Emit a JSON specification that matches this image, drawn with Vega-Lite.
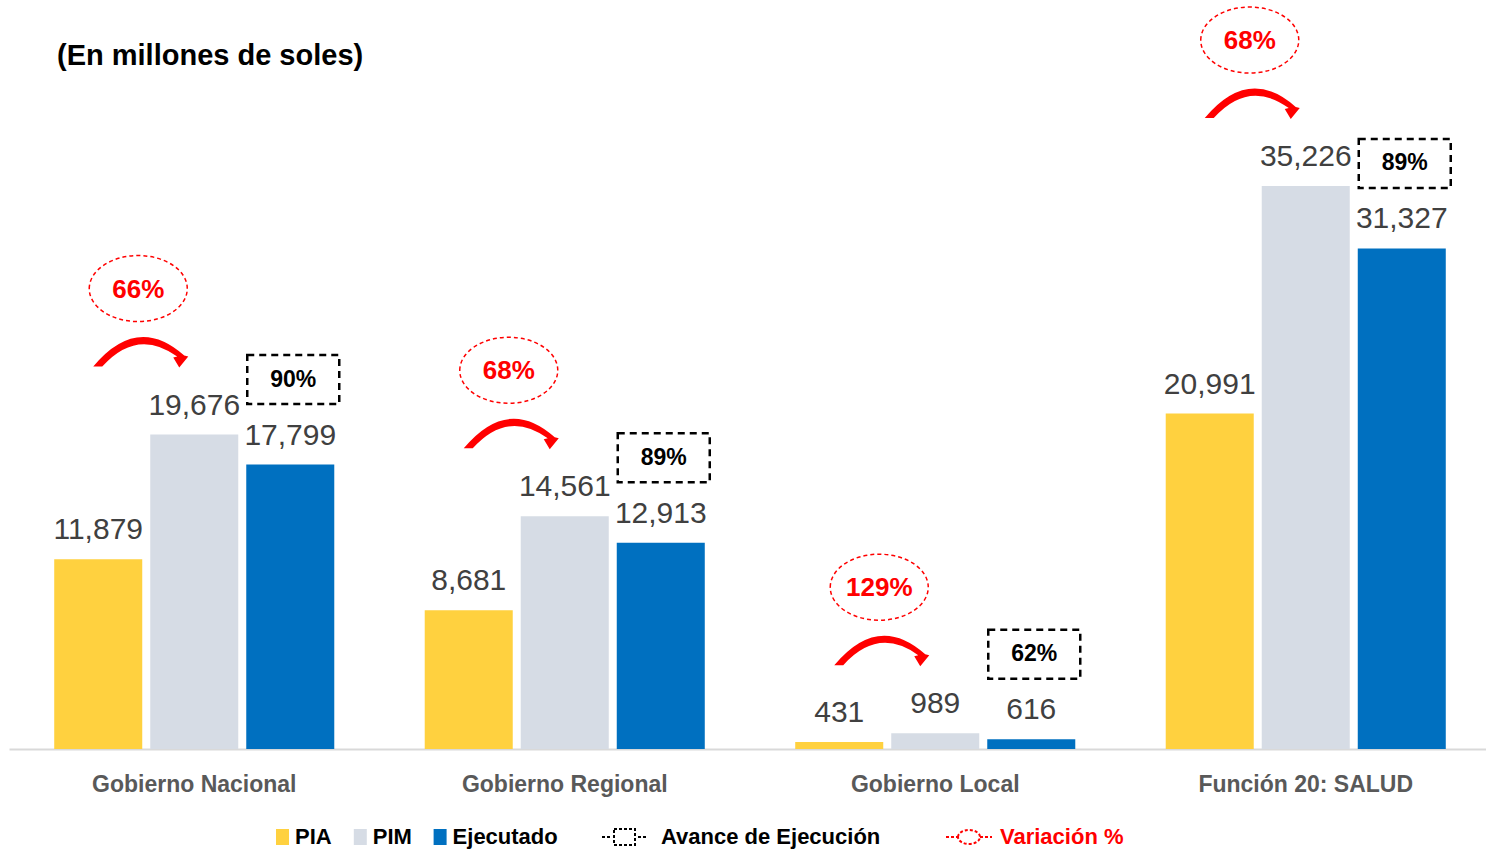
{
  "$schema": "https://vega.github.io/schema/vega-lite/v6.json",
  "autosize": "none",
  "padding": {"left": 9, "top": 0, "right": 0, "bottom": 101},
  "width": 1482,
  "height": 749,
  "background": "white",
  "config": {"view": {"stroke": null}},
  "title": {
    "text": "(En millones de soles)",
    "anchor": "start",
    "frame": "group",
    "orient": "top",
    "offset": 0,
    "baseline": "alphabetic",
    "dx": 48,
    "dy": 94,
    "font": "Liberation Sans",
    "fontSize": 29,
    "fontWeight": "bold",
    "color": "#000000"
  },
  "datasets": {
    "barras": [
      {"grupo": "Gobierno Nacional", "serie": "PIA", "valor": 11879},
      {"grupo": "Gobierno Nacional", "serie": "PIM", "valor": 19676},
      {"grupo": "Gobierno Nacional", "serie": "Ejecutado", "valor": 17799},
      {"grupo": "Gobierno Regional", "serie": "PIA", "valor": 8681},
      {"grupo": "Gobierno Regional", "serie": "PIM", "valor": 14561},
      {"grupo": "Gobierno Regional", "serie": "Ejecutado", "valor": 12913},
      {"grupo": "Gobierno Local", "serie": "PIA", "valor": 431},
      {"grupo": "Gobierno Local", "serie": "PIM", "valor": 989},
      {"grupo": "Gobierno Local", "serie": "Ejecutado", "valor": 616},
      {"grupo": "Función 20: SALUD", "serie": "PIA", "valor": 20991},
      {"grupo": "Función 20: SALUD", "serie": "PIM", "valor": 35226},
      {"grupo": "Función 20: SALUD", "serie": "Ejecutado", "valor": 31327}
    ],
    "anotaciones": [
      {"grupo": "Gobierno Nacional", "serie": "Ejecutado", "valor": 17799, "tipo": "Avance de Ejecución", "texto": "90%"},
      {"grupo": "Gobierno Regional", "serie": "Ejecutado", "valor": 12913, "tipo": "Avance de Ejecución", "texto": "89%"},
      {"grupo": "Gobierno Local", "serie": "Ejecutado", "valor": 616, "tipo": "Avance de Ejecución", "texto": "62%"},
      {"grupo": "Función 20: SALUD", "serie": "Ejecutado", "valor": 31327, "tipo": "Avance de Ejecución", "texto": "89%"},
      {"grupo": "Gobierno Nacional", "serie": "PIM", "valor": 19676, "tipo": "Variación %", "texto": "66%"},
      {"grupo": "Gobierno Regional", "serie": "PIM", "valor": 14561, "tipo": "Variación %", "texto": "68%"},
      {"grupo": "Gobierno Local", "serie": "PIM", "valor": 989, "tipo": "Variación %", "texto": "129%"},
      {"grupo": "Función 20: SALUD", "serie": "PIM", "valor": 35226, "tipo": "Variación %", "texto": "68%"}
    ]
  },
  "encoding": {
    "x": {
      "field": "grupo",
      "type": "nominal",
      "sort": ["Gobierno Nacional", "Gobierno Regional", "Gobierno Local", "Función 20: SALUD"],
      "scale": {"paddingInner": 0, "paddingOuter": 0},
      "axis": {
        "title": null,
        "ticks": false,
        "labelAngle": 0,
        "labelLimit": 0,
        "domainColor": "#d9d9d9",
        "domainWidth": 2,
        "labelFont": "Liberation Sans",
        "labelFontSize": 23,
        "labelFontWeight": "bold",
        "labelColor": "#595959",
        "labelPadding": 24
      }
    },
    "y": {
      "field": "valor",
      "type": "quantitative",
      "scale": {"domain": [0, 46870], "nice": false, "zero": true},
      "axis": null
    }
  },
  "resolve": {"scale": {"shape": "independent"}, "legend": {"shape": "independent"}},
  "layer": [
    {
      "data": {"name": "barras"},
      "mark": {"type": "bar"},
      "encoding": {
        "xOffset": {
          "field": "serie",
          "type": "nominal",
          "sort": ["PIA", "PIM", "Ejecutado"],
          "scale": {"domain": ["PIA", "PIM", "Ejecutado"], "paddingInner": 0.0833, "paddingOuter": 0.471}
        },
        "color": {
          "field": "serie",
          "type": "nominal",
          "scale": {"domain": ["PIA", "PIM", "Ejecutado"], "range": ["#FFD13F", "#D6DCE5", "#0070C0"]},
          "legend": {
            "orient": "none",
            "direction": "horizontal",
            "legendX": 262.5,
            "legendY": 826,
            "title": null,
            "padding": 0,
            "symbolType": "M-6.5,-8H6.5V8H-6.5Z",
            "symbolSize": 4,
            "symbolStrokeWidth": 0,
            "symbolOpacity": 1,
            "labelFont": "Liberation Sans",
            "labelFontSize": 22,
            "labelFontWeight": "bold",
            "labelColor": "#000000",
            "labelLimit": 0,
            "labelOffset": 1.5,
            "columnPadding": 16.8
          }
        }
      }
    },
    {
      "data": {"name": "barras"},
      "mark": {
        "type": "text",
        "font": "Liberation Sans",
        "fontSize": 30,
        "color": "#404040",
        "baseline": "alphabetic",
        "align": "center",
        "dy": -20
      },
      "encoding": {
        "xOffset": {"field": "serie", "type": "nominal", "sort": ["PIA", "PIM", "Ejecutado"]},
        "text": {"field": "valor", "type": "quantitative", "format": ","}
      }
    },
    {
      "data": {"name": "anotaciones"},
      "transform": [{"filter": "datum.tipo === 'Avance de Ejecución'"}],
      "mark": {
        "type": "point",
        "shape": "M-46,-24.5H46V24.5H-46Z",
        "filled": false,
        "stroke": "#000000",
        "strokeWidth": 2.5,
        "strokeDash": [7, 5],
        "size": 4,
        "opacity": 1,
        "xOffset": 99,
        "yOffset": -85
      }
    },
    {
      "data": {"name": "anotaciones"},
      "transform": [{"filter": "datum.tipo === 'Avance de Ejecución'"}],
      "mark": {
        "type": "text",
        "font": "Liberation Sans",
        "fontWeight": "bold",
        "fontSize": 23,
        "color": "#000000",
        "baseline": "middle",
        "align": "center",
        "dx": 99,
        "dy": -85
      },
      "encoding": {"text": {"field": "texto", "type": "nominal"}}
    },
    {
      "data": {"name": "anotaciones"},
      "transform": [{"filter": "datum.tipo === 'Variación %'"}],
      "mark": {
        "type": "point",
        "shape": "M-49,0A49,33,0,1,1,49,0A49,33,0,1,1,-49,0Z",
        "filled": false,
        "stroke": "#ff0000",
        "strokeWidth": 1.5,
        "strokeDash": [4, 3],
        "size": 4,
        "opacity": 1,
        "xOffset": -56,
        "yOffset": -146
      }
    },
    {
      "data": {"name": "anotaciones"},
      "transform": [{"filter": "datum.tipo === 'Variación %'"}],
      "mark": {
        "type": "text",
        "font": "Liberation Sans",
        "fontWeight": "bold",
        "fontSize": 26,
        "color": "#ff0000",
        "baseline": "middle",
        "align": "center",
        "dx": -56,
        "dy": -145
      },
      "encoding": {"text": {"field": "texto", "type": "nominal"}}
    },
    {
      "data": {"name": "anotaciones"},
      "transform": [{"filter": "datum.tipo === 'Variación %'"}],
      "mark": {
        "type": "point",
        "shape": "M-46,15Q-2,-38,45,4L49,5L40,16L34,6L38,5Q-2,-24,-37,15Z",
        "filled": true,
        "fill": "#ff0000",
        "strokeWidth": 0,
        "size": 4,
        "opacity": 1,
        "xOffset": -55,
        "yOffset": -83
      }
    },
    {
      "data": {"name": "anotaciones"},
      "transform": [{"filter": "false"}],
      "mark": {
        "type": "point",
        "filled": false,
        "stroke": "#000000",
        "strokeWidth": 2,
        "strokeDash": [3, 2],
        "size": 4
      },
      "encoding": {
        "shape": {
          "field": "tipo",
          "type": "nominal",
          "scale": {"domain": ["Avance de Ejecución"], "range": ["M0,0H9M12,-8H33V8H12ZM36,0H45"]},
          "legend": {
            "orient": "none",
            "direction": "horizontal",
            "legendX": 582,
            "legendY": 826,
            "title": null,
            "padding": 0,
            "symbolSize": 4,
            "symbolStrokeWidth": 2,
            "symbolStrokeColor": "#000000",
            "symbolDash": [3, 2],
            "symbolOpacity": 1,
            "labelFont": "Liberation Sans",
            "labelFontSize": 22,
            "labelFontWeight": "bold",
            "labelColor": "#000000",
            "labelLimit": 0,
            "labelOffset": 48
          }
        }
      }
    },
    {
      "data": {"name": "anotaciones"},
      "transform": [{"filter": "false"}],
      "mark": {
        "type": "point",
        "filled": false,
        "stroke": "#ff0000",
        "strokeWidth": 2,
        "strokeDash": [3, 2],
        "size": 4
      },
      "encoding": {
        "shape": {
          "field": "tipo",
          "type": "nominal",
          "scale": {"domain": ["Variación %"], "range": ["M5,0H17M17,0A11,7,0,1,1,39,0A11,7,0,1,1,17,0ZM39,0H51"]},
          "legend": {
            "orient": "none",
            "direction": "horizontal",
            "legendX": 921,
            "legendY": 826,
            "title": null,
            "padding": 0,
            "symbolSize": 4,
            "symbolStrokeWidth": 2,
            "symbolStrokeColor": "#ff0000",
            "symbolFillColor": "#e7e6e6",
            "symbolDash": [3, 2],
            "symbolOpacity": 1,
            "labelFont": "Liberation Sans",
            "labelFontSize": 22,
            "labelFontWeight": "bold",
            "labelColor": "#ff0000",
            "labelLimit": 0,
            "labelOffset": 48
          }
        }
      }
    }
  ]
}
